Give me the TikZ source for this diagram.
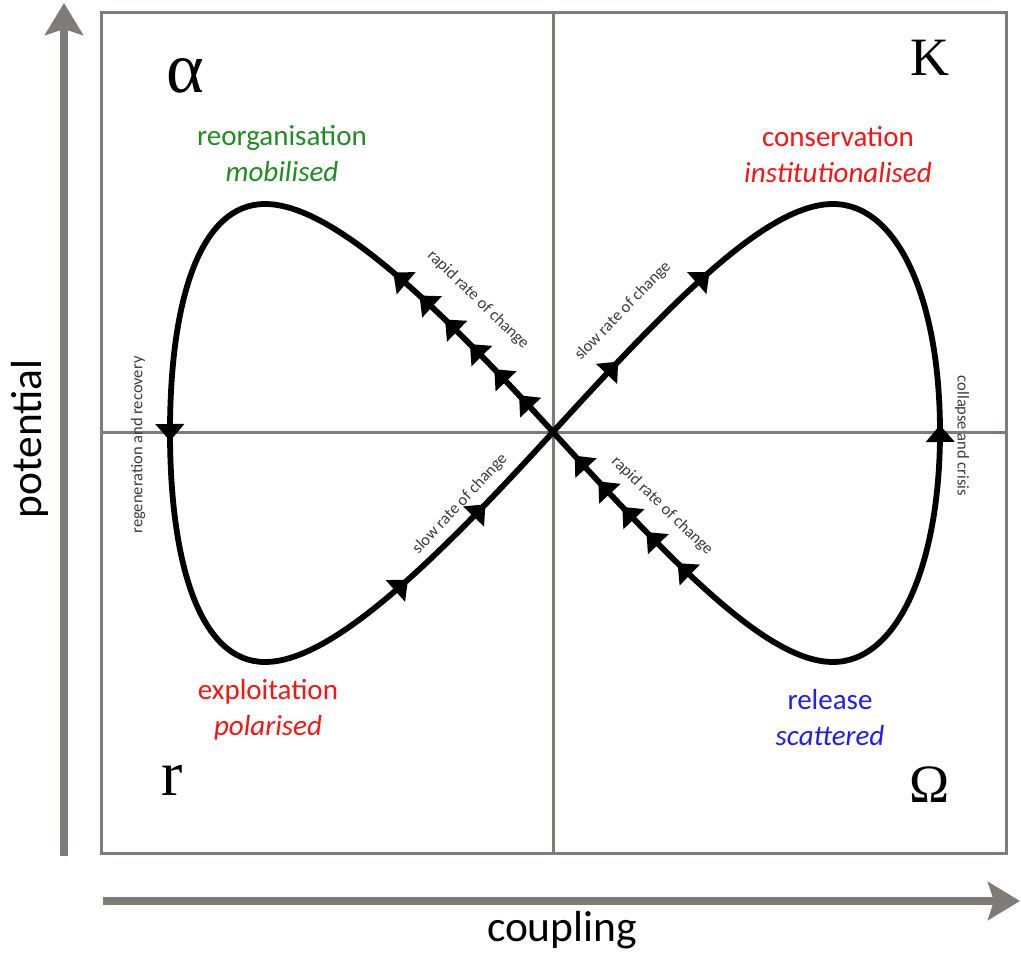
\documentclass[tikz,border=0pt]{standalone}
\usepackage{fontspec}
\setmainfont{Carlito}
\newfontfamily\greekfont{Liberation Serif}
\usetikzlibrary{arrows.meta,decorations.markings}
\definecolor{axisgray}{RGB}{128,123,116}
\definecolor{lblgreen}{RGB}{34,139,34}
\definecolor{lblred}{RGB}{250,20,20}
\definecolor{lblblue}{RGB}{30,30,250}
\definecolor{smallgray}{RGB}{60,60,60}
\begin{document}
\begin{tikzpicture}[x=1pt,y=-1pt,
  frame/.style={draw=axisgray,line width=3pt},
  axisline/.style={draw=axisgray,line width=8pt,-{Stealth[length=32pt,width=38pt,inset=6pt]}},
  loopline/.style={line width=5.8pt,line cap=round},
  ft/.tip={Triangle[width=28pt,length=17pt]},
  arrs/.style={postaction={decorate,decoration={markings,#1}}},
  axislabel/.style={font=\fontsize{43.5}{50}\selectfont,text=black},
  greek/.style={font=\greekfont\fontsize{54}{60}\selectfont,text=black},
  phase/.style={font=\fontsize{29}{36}\selectfont,align=center},
  small/.style={font=\fontsize{16.5}{18}\selectfont,text=smallgray,inner sep=0pt}
]
\useasboundingbox (0,0) rectangle (1021,953);
\fill[white] (0,0) rectangle (1021,953);

% frame and quadrant lines
\coordinate (boxtl) at (101,12);
\coordinate (boxbr) at (1006,853);
\coordinate (vtop) at (553,12);
\coordinate (vbot) at (553,853);
\coordinate (hleft) at (101,432);
\coordinate (hright) at (1006,432);
\draw[frame] (boxtl) rectangle (boxbr);
\draw[frame] (vtop) -- (vbot);
\draw[frame] (hleft) -- (hright);

% axes
\coordinate (ybot) at (64,856);
\coordinate (ytop) at (64,3);
\coordinate (xleft) at (103,901);
\coordinate (xright) at (1020,901);
\draw[axisline] (ybot) -- (ytop);
\draw[axisline] (xleft) -- (xright);
\node[axislabel,rotate=90] (potential) at (30,439) {potential};
\node[axislabel] (coupling) at (562,930) {coupling};

% loop points
\coordinate (c) at (553,432);
\coordinate (tl) at (265,204);
\coordinate (lm) at (170,432);
\coordinate (bl) at (265,662);
\coordinate (tr) at (833,204);
\coordinate (rm) at (940,432);
\coordinate (br) at (833,662);

% left loop
\draw[loopline,arrs={mark=at position 50pt with {\arrow{ft}},
                     mark=at position 86pt with {\arrow{ft}},
                     mark=at position 121pt with {\arrow{ft}},
                     mark=at position 156pt with {\arrow{ft}},
                     mark=at position 191pt with {\arrow{ft}},
                     mark=at position 226pt with {\arrow{ft}}}]
  (c) .. controls (430,297) and (330,204) .. (tl);
\draw[loopline] (tl) .. controls (200,204) and (170,300) .. (lm);
\draw[loopline,arrs={mark=at position 9pt with {\arrow{ft}}}]
  (lm) .. controls (170,564) and (200,662) .. (bl);
\draw[loopline,arrs={mark=at position -99pt with {\arrow{ft}},
                     mark=at position -207pt with {\arrow{ft}}}]
  (bl) .. controls (330,662) and (430,567) .. (c);

% right loop
\draw[loopline,arrs={mark=at position 96pt with {\arrow{ft}},
                     mark=at position 224pt with {\arrow{ft}}}]
  (c) .. controls (676,297) and (768,204) .. (tr);
\draw[loopline,arrs={mark=at position -7pt with {\arrowreversed{ft}}}]
  (tr) .. controls (898,204) and (940,300) .. (rm);
\draw[loopline] (rm) .. controls (940,564) and (898,662) .. (br);
\draw[loopline,arrs={mark=at position -32pt with {\arrow{ft}},
                     mark=at position -67pt with {\arrow{ft}},
                     mark=at position -102pt with {\arrow{ft}},
                     mark=at position -137pt with {\arrow{ft}},
                     mark=at position -181pt with {\arrow{ft}}}]
  (br) .. controls (768,662) and (676,567) .. (c);

% small labels along the loops
\node[small,rotate=-44] (rapid1) at (478,300) {rapid rate of change};
\node[small,rotate=46] (slow1) at (623,311) {slow rate of change};
\node[small,rotate=47] (slow2) at (460,504) {slow rate of change};
\node[small,rotate=-44] (rapid2) at (662,506) {rapid rate of change};
\node[small,rotate=90] (regen) at (138,445) {regeneration and recovery};
\node[small,rotate=-90] (collapse) at (962,436) {collapse and crisis};

% greek letters
\node[greek,font=\greekfont\fontsize{72}{76}\selectfont] (alpha) at (185,76) {α};
\node[greek] (kappa) at (930,58) {K};
\node[greek,font=\greekfont\fontsize{64}{70}\selectfont] (rr) at (172,780) {r};
\node[greek] (omega) at (930,785) {Ω};

% phase labels
\node[phase,text=lblgreen] (reorg) at (282,154) {reorganisation\\\textit{mobilised}};
\node[phase,text=lblred] (cons) at (838,155) {conservation\\\textit{institutionalised}};
\node[phase,text=lblred] (expl) at (268,710) {exploitation\\\textit{polarised}};
\node[phase,text=lblblue] (rel) at (830,718) {release\\\textit{scattered}};
\end{tikzpicture}
\end{document}
